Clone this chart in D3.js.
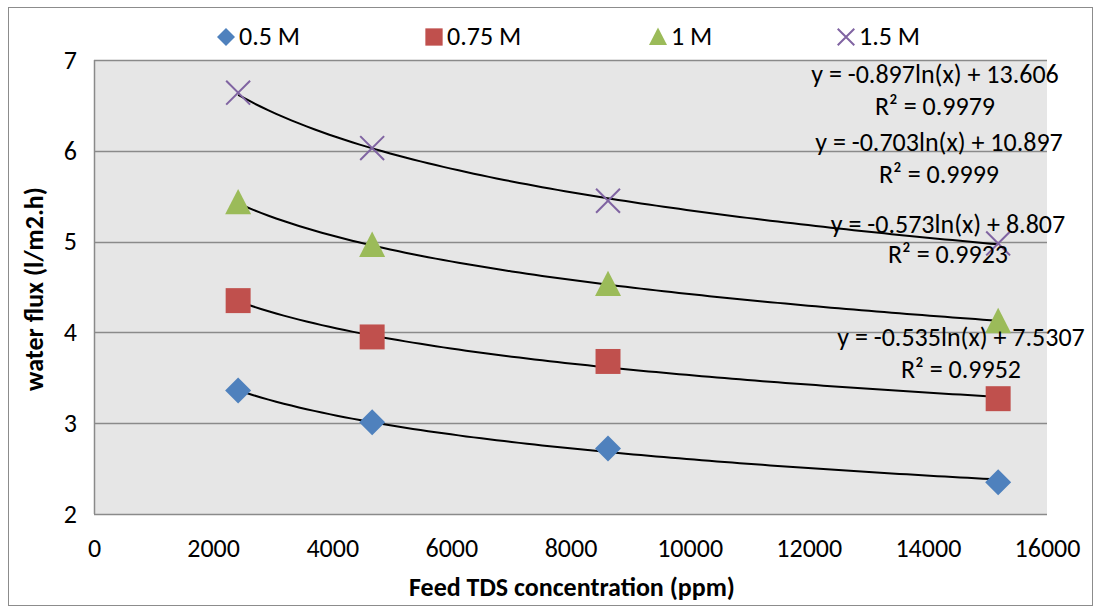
<!DOCTYPE html>
<html><head><meta charset="utf-8">
<script src="https://cdn.jsdelivr.net/npm/d3@7"></script>
<style>body{margin:0;background:#fff}text{font-family:Carlito,Lato,sans-serif;fill:#000}</style>
</head><body>
<svg id="c" width="1094" height="607"></svg>
<script>
const seriesNames = ["0.5 M","0.75 M","1 M","1.5 M"];
const xValues = [2420, 4670, 8630, 15180];
const flux05 = [3.36, 3.01, 2.72, 2.35];
const flux075 = [4.35, 3.95, 3.68, 3.27];
const flux1 = [5.43, 4.96, 4.53, 4.12];
const flux15 = [6.64, 6.03, 5.45, 4.98];
const trendA = [-0.535, -0.573, -0.703, -0.897];
const trendB = [7.5307, 8.807, 10.897, 13.606];
const eqLabels = ["y = -0.535ln(x) + 7.5307","y = -0.573ln(x) + 8.807","y = -0.703ln(x) + 10.897","y = -0.897ln(x) + 13.606"];
const r2Labels = ["R² = 0.9952","R² = 0.9923","R² = 0.9999","R² = 0.9979"];
const xTicks = [0,2000,4000,6000,8000,10000,12000,14000,16000];
const yTicks = [2,3,4,5,6,7];
const colors = ["#4f81bd","#c0504d","#9bbb59","#8064a2"];
const shapes = ["diamond","square","triangle","cross"];
const allFlux = [flux05, flux075, flux1, flux15];

const svg = d3.select("#c");
const L=94,R=1047,T=60,B=514;
const x = d3.scaleLinear().domain([0,16000]).range([L,R]);
const y = d3.scaleLinear().domain([2,7]).range([B,T]);
const FS = "26px";

svg.append("rect").attr("x",8.5).attr("y",7.5).attr("width",1084).attr("height",598)
  .attr("fill","#fff").attr("stroke","#8c8c8c");
svg.append("rect").attr("x",L).attr("y",T).attr("width",R-L).attr("height",B-T).attr("fill","#e6e6e6");

// gridlines
svg.append("g").selectAll("line").data(yTicks).join("line")
  .attr("x1",L).attr("x2",R).attr("y1",d=>Math.round(y(d))+0.5).attr("y2",d=>Math.round(y(d))+0.5)
  .attr("stroke","#8a8a8a").attr("stroke-width",1.5);
svg.append("line").attr("x1",L+0.5).attr("x2",L+0.5).attr("y1",T).attr("y2",B)
  .attr("stroke","#8a8a8a").attr("stroke-width",1.5);

// axes
const yAxis = d3.axisLeft(y).tickValues(yTicks).tickSize(0).tickFormat(d3.format("d"));
const gy = svg.append("g").attr("transform",`translate(${L},0)`).call(yAxis);
gy.select(".domain").remove();
gy.selectAll("text").style("font-size",FS).style("font-family","Carlito").attr("dy","0.32em").attr("x",-17);
const xAxis = d3.axisBottom(x).tickValues(xTicks).tickSize(0).tickFormat(d3.format("d"));
const gx = svg.append("g").attr("transform",`translate(0,${B})`).call(xAxis);
gx.select(".domain").remove();
gx.selectAll("text").style("font-size",FS).style("font-family","Carlito").attr("dy","0.32em").attr("y",35);

// trendlines
const line = d3.line().x(d=>x(d[0])).y(d=>y(d[1]));
const xs = d3.range(0,101).map(i=>xValues[0]+(xValues[3]-xValues[0])*i/100);
trendA.forEach((a,i)=>{
  svg.append("path").attr("d",line(xs.map(v=>[v,a*Math.log(v)+trendB[i]])))
    .attr("fill","none").attr("stroke","#000").attr("stroke-width",2);
});

function marker(g, shape, color, cx, cy, s){
  const h = s/2;
  if(shape==="diamond") g.append("path").attr("d",`M${cx},${cy-h}L${cx+h},${cy}L${cx},${cy+h}L${cx-h},${cy}Z`).attr("fill",color);
  else if(shape==="square") g.append("rect").attr("x",cx-h*0.96).attr("y",cy-h*0.96).attr("width",s*0.96).attr("height",s*0.96).attr("fill",color);
  else if(shape==="triangle") g.append("path").attr("d",`M${cx},${cy-h*1.05}L${cx+h},${cy+h*0.9}L${cx-h},${cy+h*0.9}Z`).attr("fill",color);
  else g.append("path").attr("d",`M${cx-h*0.92},${cy-h*0.92}L${cx+h*0.92},${cy+h*0.92}M${cx+h*0.92},${cy-h*0.92}L${cx-h*0.92},${cy+h*0.92}`).attr("stroke",color).attr("stroke-width",2).attr("fill","none");
}

// markers
allFlux.forEach((vals,si)=>{
  const g = svg.append("g");
  vals.forEach((v,i)=>marker(g, shapes[si], colors[si], x(xValues[i]), y(v), 26));
});

// equation labels
const eqPos = [[961,338,370],[948,225,255],[939,143,175],[935,75,107]];
eqLabels.forEach((t,i)=>{
  svg.append("text").attr("x",eqPos[i][0]).attr("y",eqPos[i][1]).attr("dy","0.32em")
    .attr("text-anchor","middle").style("font-size",FS).text(t);
  svg.append("text").attr("x",eqPos[i][0]).attr("y",eqPos[i][2]).attr("dy","0.32em")
    .attr("text-anchor","middle").style("font-size",FS).text(r2Labels[i]);
});

// legend
const legX = [226,434,658,846];
seriesNames.forEach((n,i)=>{
  const g = svg.append("g");
  marker(g, shapes[i], colors[i], legX[i], 37, 18);
  g.append("text").attr("x",legX[i]+13).attr("y",37).attr("dy","0.32em").style("font-size",FS).text(n);
});

// axis titles
svg.append("text").attr("x",572).attr("y",588).attr("dy","0.32em").attr("text-anchor","middle")
  .style("font-size",FS).style("font-weight","bold").text("Feed TDS concentration (ppm)");
svg.append("text").attr("transform","translate(35,289) rotate(-90)").attr("dy","0.32em").attr("text-anchor","middle")
  .style("font-size",FS).style("font-weight","bold").text("water flux (l/m2.h)");
</script>
</body></html>
